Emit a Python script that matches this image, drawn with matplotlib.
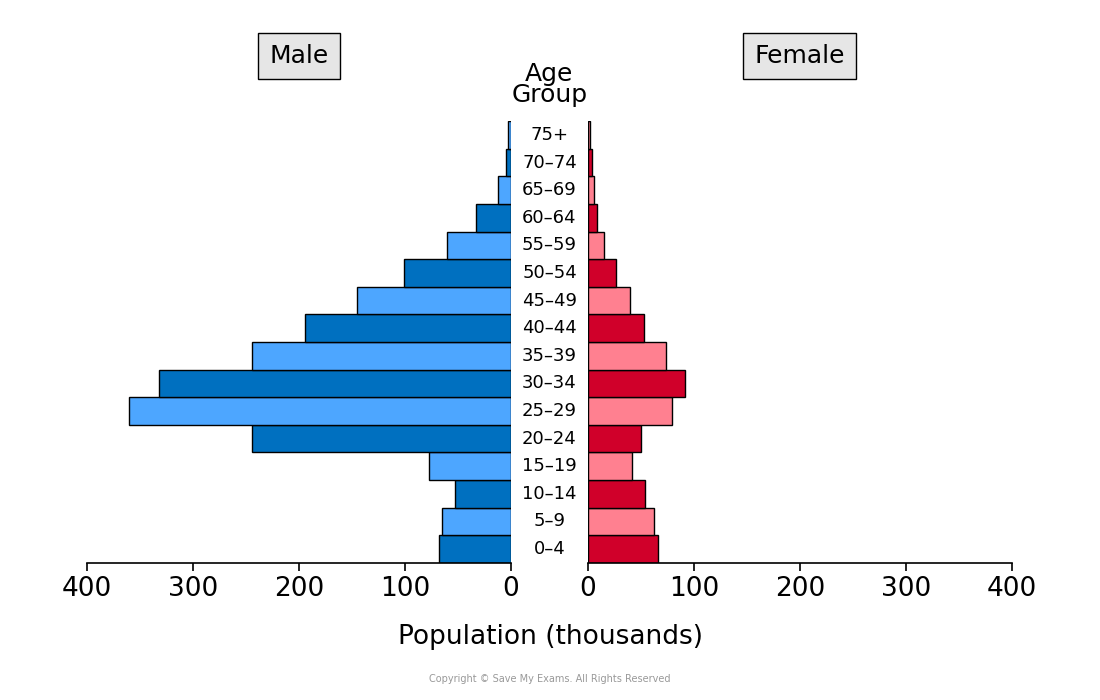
import matplotlib.pyplot as plt

age_groups = ['0-4', '5-9', '10-14', '15-19', '20-24', '25-29', '30-34', '35-39',
              '40-44', '45-49', '50-54', '55-59', '60-64', '65-69', '70-74', '75+']
male = [68, 65, 53, 77, 244, 360, 332, 244, 194, 145, 101, 60, 33, 12, 5, 3]
female = [66, 62, 54, 42, 50, 79, 92, 74, 53, 40, 26, 15, 9, 6, 4, 2]
ticks = [0, 100, 200, 300, 400]

male_cols = ['#0070C0' if i % 2 == 0 else '#4DA6FF' for i in range(len(age_groups))]
female_cols = ['#D0002A' if i % 2 == 0 else '#FF8090' for i in range(len(age_groups))]

fig = plt.figure(figsize=(11, 7), dpi=100)
axl = fig.add_axes([0.079, 0.196, 0.3855, 0.631])
axr = fig.add_axes([0.5345, 0.196, 0.3855, 0.631])

y = range(len(age_groups))
axl.barh(y, male, height=1, color=male_cols, edgecolor='black', linewidth=1)
axr.barh(y, female, height=1, color=female_cols, edgecolor='black', linewidth=1)

for ax in (axl, axr):
    ax.set_xlim(0, 400)
    ax.set_ylim(-0.5, len(age_groups) - 0.5)
    ax.set_yticks([])
    ax.set_xticks(ticks)
    ax.tick_params(axis='x', labelsize=19, length=6, width=1.2)
    for s in ('top', 'left', 'right'):
        ax.spines[s].set_visible(False)
    ax.spines['bottom'].set_linewidth(1.2)
axl.invert_xaxis()

# centre age labels
for i, g in enumerate(age_groups):
    yf = 0.196 + 0.631 * (i + 0.5) / len(age_groups)
    fig.text(0.4995, yf, g.replace('-', '–'), ha='center', va='center', fontsize=13)

fig.text(0.4995, 0.895, 'Age', ha='center', va='center', fontsize=18)
fig.text(0.4995, 0.865 - 0.001, 'Group', ha='center', va='center', fontsize=18)
box = dict(boxstyle='square,pad=0.45', facecolor='#E6E6E6', edgecolor='black', linewidth=1)
fig.text(0.272, 0.92, 'Male', ha='center', va='center', fontsize=18, bbox=box)
fig.text(0.727, 0.92, 'Female', ha='center', va='center', fontsize=18, bbox=box)

fig.text(0.5, 0.09, 'Population (thousands)', ha='center', va='center', fontsize=19)
fig.text(0.5, 0.03, 'Copyright © Save My Exams. All Rights Reserved', ha='center',
         va='center', fontsize=7, color='#999999')

fig.savefig('out.png')
